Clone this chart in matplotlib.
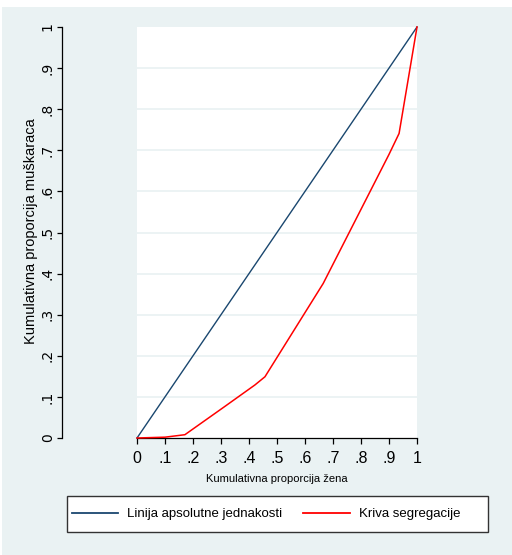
"""
Kriva segregacije (Lorenz-style) vs. linija apsolutne jednakosti.
"""

import matplotlib.pyplot as plt
from matplotlib.lines import Line2D
from matplotlib.patches import Rectangle

# data
equal_x = [0.0, 1.0]
equal_y = [0.0, 1.0]

seg_x = [0.0, 0.10, 0.171, 0.31, 0.421, 0.457, 0.665, 0.90, 0.936, 1.0]
seg_y = [0.0, 0.002, 0.008, 0.075, 0.129, 0.149, 0.376, 0.69, 0.741, 1.0]

ticks = [0.0, 0.1, 0.2, 0.3, 0.4, 0.5, 0.6, 0.7, 0.8, 0.9, 1.0]
tick_labels = ["0", ".1", ".2", ".3", ".4", ".5", ".6", ".7", ".8", ".9", "1"]

x_label = "Kumulativna proporcija žena"
y_label = "Kumulativna proporcija muškaraca"
legend_labels = ["Linija apsolutne jednakosti", "Kriva segregacije"]

BG = "#EAF2F3"
NAVY = "#1A476F"
RED = "#FF0000"
W, H = 512, 555

FONT = ["Liberation Sans", "DejaVu Sans"]

fig = plt.figure(figsize=(W / 100, H / 100), dpi=100)
fig.patch.set_facecolor("white")
fig.patches.append(Rectangle((2 / W, 0), 1, (H - 7) / H, transform=fig.transFigure,
                             facecolor=BG, edgecolor="none", zorder=-10))

ax = fig.add_axes([137 / W, (H - 438) / H, 280 / W, 411 / H])
ax.set_facecolor("white")

ax.plot(equal_x, equal_y, color=NAVY, linewidth=1.0, clip_on=False, zorder=3)
ax.plot(seg_x, seg_y, color=RED, linewidth=1.1, clip_on=False, zorder=4)

ax.set_xlim(0, 1)
ax.set_ylim(0, 1)
ax.set_xticks(ticks)
ax.set_yticks(ticks)
ax.set_xticklabels(tick_labels, family=FONT, fontsize=11.5)
ax.set_yticklabels(tick_labels, family=FONT, fontsize=10.5)

# horizontal grid in the background colour
for t in ticks[1:-1]:
    ax.axhline(t, color=BG, linewidth=1.3, zorder=1)

for s in ("top", "right"):
    ax.spines[s].set_visible(False)
ax.spines["left"].set_position(("outward", 54))
ax.spines["left"].set_bounds(0, 1)
ax.spines["left"].set_linewidth(0.9)
ax.spines["bottom"].set_linewidth(0.9)

ax.tick_params(axis="x", direction="out", length=4.5, width=0.9, pad=5)
ax.tick_params(axis="y", direction="out", length=3.6, width=0.9, pad=1.5, labelrotation=90)
for lab in ax.get_yticklabels():
    lab.set_verticalalignment("center")

fig.text(276.5 / W, 1 - 479 / H, x_label, ha="center", va="center",
         family=FONT, fontsize=8)
fig.text(31 / W, 1 - 231 / H, y_label, ha="center", va="center", rotation=90,
         family=FONT, fontsize=10.5)

# legend box
fig.patches.append(Rectangle((66.7 / W, (H - 531.7) / H), 421 / W, 35.7 / H,
                             transform=fig.transFigure, facecolor="white",
                             edgecolor="#333333", linewidth=1.0, zorder=1))
handles = [Line2D([], [], color=NAVY, linewidth=1.3),
           Line2D([], [], color=RED, linewidth=1.3)]
fig.legend(handles, legend_labels, loc="center left",
           bbox_to_anchor=(72 / W, 1 - 514 / H), frameon=False, ncol=2,
           borderaxespad=0, borderpad=0, handlelength=3.5, handletextpad=0.68,
           columnspacing=1.6, prop={"family": FONT, "size": 9.5})

fig.savefig("out.png", dpi=100, facecolor=fig.get_facecolor())
plt.close(fig)
